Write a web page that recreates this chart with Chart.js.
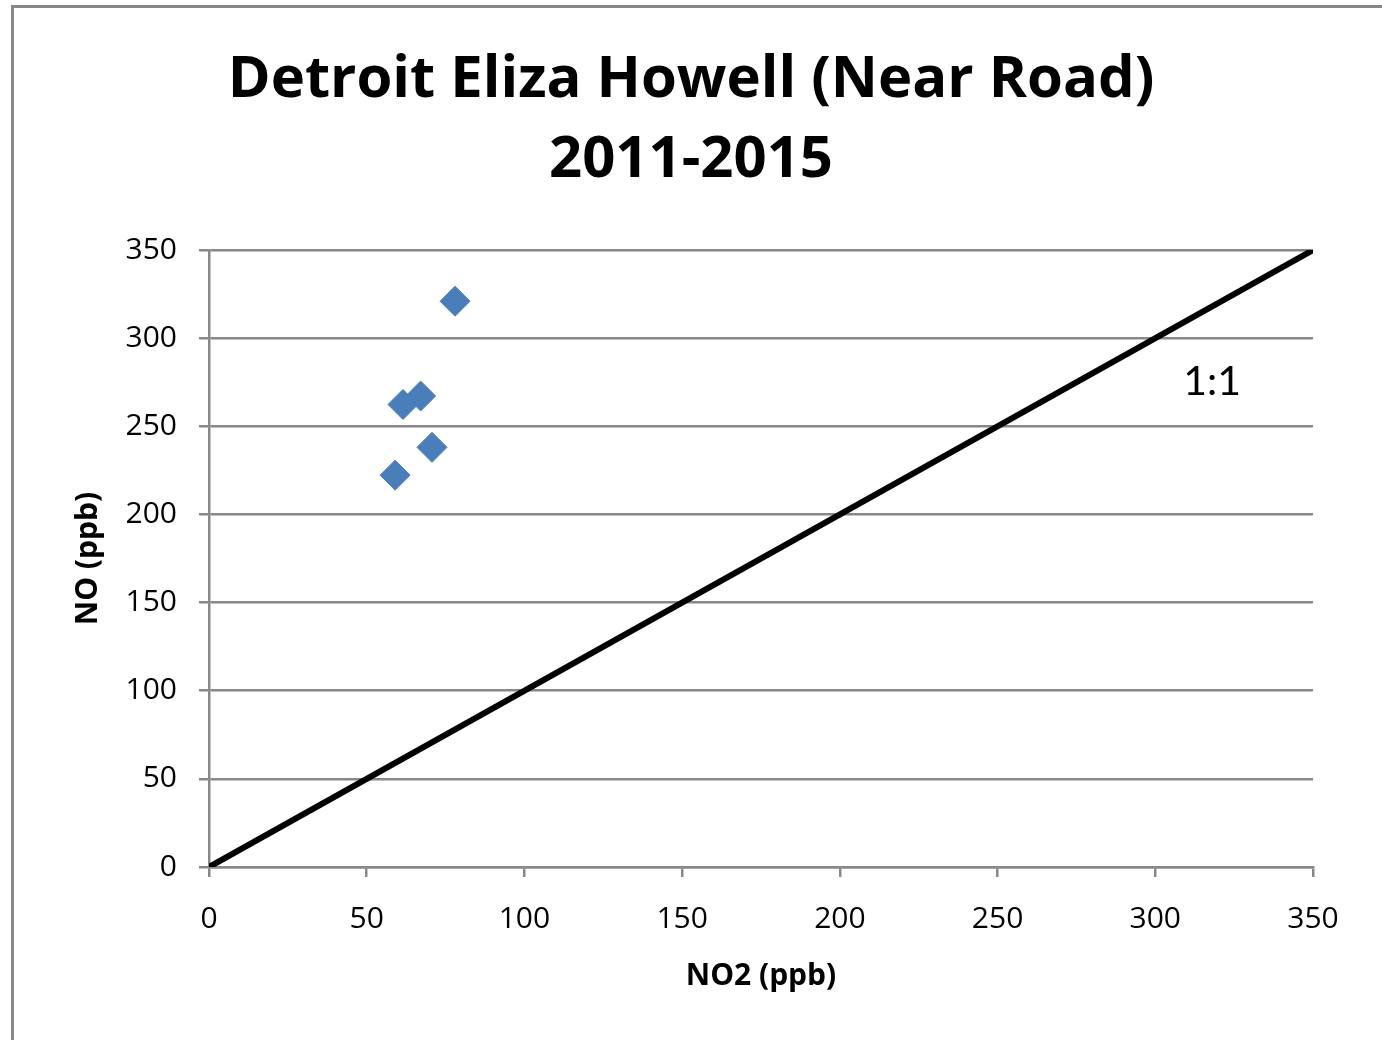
<!DOCTYPE html>
<html>
<head>
<meta charset="utf-8">
<script src="https://cdn.jsdelivr.net/npm/chart.js@4.4.0/dist/chart.umd.min.js"></script>
<style>
  html, body { margin: 0; padding: 0; background: #fff; overflow: hidden; }
  #wrap { position: absolute; left: 0; top: 0; width: 1382px; height: 1040px; }
  #frame { position: absolute; left: 11px; top: 5px; width: 1500px; height: 1200px;
           border-left: 3px solid #888; border-top: 3px solid #888; pointer-events: none; }
</style>
</head>
<body>
<div id="wrap">
  <canvas id="chart" width="1382" height="1040"></canvas>
  <div id="frame"></div>
</div>
<script>
// NO2 vs NO readings (ppb)
const no2Values = [78.0, 61.5, 67.1, 70.7, 59.0];
const noValues = [321.0, 262.4, 267.2, 238.1, 222.3];

// the 1:1 reference line
const oneToOneX = [0, 350];
const oneToOneY = [0, 350];

const axisMin = 0;
const axisMax = 350;
const axisStep = 50;

const titleLines = ['Detroit Eliza Howell (Near Road)', '2011-2015'];
const ratioLabel = '1:1';
const ratioLabelAt = [318, 275];

const gridGray = '#888888';

// draws the "1:1" note next to the line
const ratioNote = {
    id: 'ratioNote',
    afterDatasetsDraw(chart) {
        const ctx = chart.ctx;
        const x = chart.scales.x.getPixelForValue(ratioLabelAt[0]);
        const y = chart.scales.y.getPixelForValue(ratioLabelAt[1]);
        ctx.save();
        ctx.font = '41px Lato';
        ctx.fillStyle = '#000';
        ctx.textAlign = 'center';
        ctx.textBaseline = 'middle';
        ctx.fillText(ratioLabel, x, y);
        ctx.restore();
    }
};

const ctx = document.getElementById('chart').getContext('2d');
new Chart(ctx, {
    type: 'scatter',
    data: {
        datasets: [
            {
                label: 'NO vs NO2',
                data: no2Values.map((v, i) => ({ x: v, y: noValues[i] })),
                pointStyle: 'rectRot',
                pointRadius: 15,
                pointHoverRadius: 15,
                backgroundColor: '#4A7EBB',
                borderColor: '#4A7EBB',
                borderWidth: 1
            },
            {
                type: 'line',
                label: '1:1',
                data: oneToOneX.map((v, i) => ({ x: v, y: oneToOneY[i] })),
                borderColor: '#000',
                borderWidth: 6,
                pointRadius: 0,
                fill: false
            }
        ]
    },
    options: {
        responsive: false,
        animation: false,
        layout: { padding: 0 },
        plugins: {
            legend: { display: false },
            tooltip: { enabled: false },
            title: {
                display: true,
                text: titleLines,
                color: '#000',
                font: { family: 'Open Sans', size: 58, weight: 'bold', lineHeight: 1.38 },
                padding: { top: 40, bottom: 50 }
            }
        },
        scales: {
            x: {
                type: 'linear',
                min: axisMin,
                max: axisMax,
                afterFit(scale) { scale.height = 173; },
                ticks: { stepSize: axisStep, color: '#000', padding: 24,
                         font: { family: 'Open Sans', size: 30 } },
                grid: { drawOnChartArea: false, drawTicks: true, tickLength: 10,
                        color: gridGray, lineWidth: 2.5 },
                border: { color: gridGray, width: 2.5 },
                title: { display: true, text: 'NO2 (ppb)', color: '#000',
                         font: { family: 'Open Sans', size: 30, weight: 'bold' },
                         padding: { top: 0, bottom: 46 } }
            },
            y: {
                type: 'linear',
                min: axisMin,
                max: axisMax,
                afterFit(scale) { scale.width = 209; },
                ticks: { stepSize: axisStep, color: '#000', padding: 22,
                         font: { family: 'Open Sans', size: 30 } },
                grid: { drawTicks: true, tickLength: 10, color: gridGray, lineWidth: 2.5 },
                border: { color: gridGray, width: 2.5 },
                title: { display: true, text: 'NO (ppb)', color: '#000',
                         font: { family: 'Open Sans', size: 30, weight: 'bold' },
                         padding: { top: 70, bottom: 0 } }
            },
            // empty box on the right so the plot ends where the original does
            spacer: {
                type: 'linear',
                position: 'right',
                display: true,
                afterFit(scale) { scale.width = 69; },
                ticks: { display: false },
                grid: { display: false },
                border: { display: false }
            }
        }
    },
    plugins: [ratioNote]
});
</script>
</body>
</html>
